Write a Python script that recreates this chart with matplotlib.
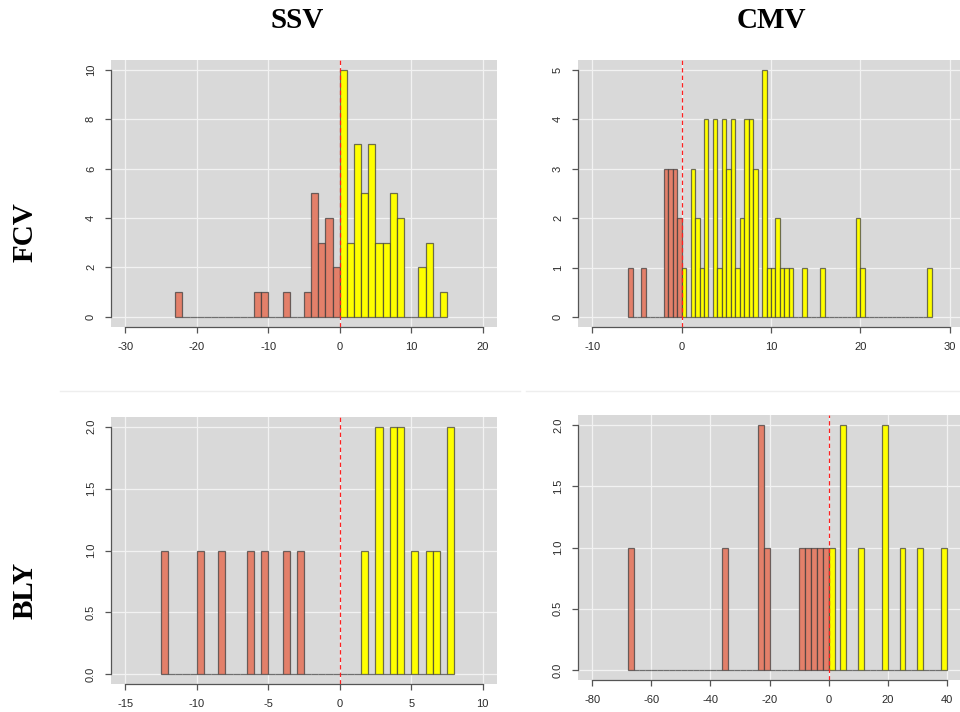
import numpy as np
import matplotlib.pyplot as plt
from matplotlib.lines import Line2D

plt.rcParams['axes.unicode_minus'] = False
plt.rcParams['font.family'] = ['Liberation Sans', 'DejaVu Sans']

# histogram counts, bins start at *_start with width *_width
fcv_ssv_start, fcv_ssv_width = -23, 1
fcv_ssv_counts = [1, 0, 0, 0, 0, 0, 0, 0, 0, 0, 0, 1, 1, 0, 0, 1, 0, 0, 1,
                  5, 3, 4, 2, 10, 3, 7, 5, 7, 3, 3, 5, 4, 0, 0, 2, 3, 0, 1]

fcv_cmv_start, fcv_cmv_width = -6, 0.5
fcv_cmv_counts = [1, 0, 0, 1, 0, 0, 0, 0, 3, 3, 3, 2,
                  1, 0, 3, 2, 1, 4, 0, 4, 1, 4, 3, 4, 1, 2, 4, 4, 3, 0,
                  5, 1, 1, 2, 1, 1, 1, 0, 0, 1, 0, 0, 0, 1,
                  0, 0, 0, 0, 0, 0, 0, 2, 1,
                  0, 0, 0, 0, 0, 0, 0, 0, 0, 0, 0, 0, 0, 0, 1]

bly_ssv_start, bly_ssv_width = -12.5, 0.5
bly_ssv_counts = [1, 0, 0, 0, 0, 1, 0, 0, 1, 0, 0, 0, 1, 0, 1, 0, 0, 1, 0, 1,
                  0, 0, 0, 0, 0, 0, 0, 0, 1, 0, 2, 0, 2, 2, 0, 1, 0, 1, 1, 0, 2]

bly_cmv_start, bly_cmv_width = -68, 2
bly_cmv_counts = [1, 0, 0, 0, 0, 0, 0, 0, 0, 0, 0, 0, 0, 0, 0, 0,
                  1, 0, 0, 0, 0, 0, 2, 1, 0, 0, 0, 0, 0,
                  1, 1, 1, 1, 1,
                  1, 0, 2, 0, 0, 1, 0, 0, 0, 2, 0, 0, 1, 0, 0, 1, 0, 0, 0, 1]

col_titles = ['SSV', 'CMV']
row_titles = ['FCV', 'BLY']

x_ticks = [np.arange(-30, 21, 10), np.arange(-10, 31, 10),
           np.arange(-15, 11, 5), np.arange(-80, 41, 20)]
y_ticks = [np.arange(0, 11, 2), np.arange(0, 6, 1),
           np.arange(0, 2.01, 0.5), np.arange(0, 2.01, 0.5)]
y_fmt = ['{:.0f}', '{:.0f}', '{:.1f}', '{:.1f}']

panels = [(fcv_ssv_start, fcv_ssv_width, fcv_ssv_counts),
          (fcv_cmv_start, fcv_cmv_width, fcv_cmv_counts),
          (bly_ssv_start, bly_ssv_width, bly_ssv_counts),
          (bly_cmv_start, bly_cmv_width, bly_cmv_counts)]

# plot regions in pixels: left, top, right, bottom
boxes = [(111, 60, 497, 326.5), (578, 60, 964, 327),
         (111, 416.7, 497, 684.3), (578, 415, 961, 680)]

W, H = 960, 712
fig = plt.figure(figsize=(W / 100, H / 100), dpi=100)

neg_col = '#E3806A'
pos_col = '#FFFF00'
edge = (0.22, 0.22, 0.22, 0.7)

for i, ((start, width, counts), box) in enumerate(zip(panels, boxes)):
    l, t, r, b = box
    ax = fig.add_axes([l / W, 1 - b / H, (r - l) / W, (b - t) / H])
    ax.set_facecolor('#D9D9D9')

    counts = np.array(counts)
    lefts = start + width * np.arange(len(counts))
    colors = [neg_col if x < 0 else pos_col for x in lefts]
    ax.bar(lefts, counts, width=width, align='edge', color=colors,
           edgecolor=edge, linewidth=0.9, zorder=3)

    xt, yt = x_ticks[i], y_ticks[i]
    xpad = 0.04 * (xt[-1] - xt[0])
    ypad = 0.04 * (yt[-1] - yt[0])
    ax.set_xlim(xt[0] - xpad, xt[-1] + xpad)
    ax.set_ylim(yt[0] - ypad, yt[-1] + ypad)

    ax.axvline(0, color='#FF2020', linestyle=(0, (3.5, 2.5)), linewidth=0.9, zorder=4)

    ax.set_xticks(xt)
    ax.set_xticklabels(['{:.0f}'.format(v) for v in xt])
    ax.set_yticks(yt)
    ax.set_yticklabels([y_fmt[i].format(v) for v in yt], rotation=90, va='center')
    ax.grid(True, color='#F2F2F2', linewidth=0.9, zorder=1)
    ax.set_axisbelow(True)

    for s in ['top', 'right']:
        ax.spines[s].set_visible(False)
    ax.spines['left'].set_bounds(yt[0], yt[-1])
    ax.spines['bottom'].set_bounds(xt[0], xt[-1])
    for s in ['left', 'bottom']:
        ax.spines[s].set_color('#555555')
        ax.spines[s].set_linewidth(0.9)
    ax.tick_params(length=4.3, width=0.9, color='#555555', pad=6.5,
                   labelsize=8, labelcolor='#2a2a2a')

# column and row headings
for x, txt in zip([297, 771], col_titles):
    fig.text(x / W, 1 - 20 / H, txt, ha='center', va='center', fontsize=21,
             fontweight='bold', family='Liberation Serif')
for y, txt in zip([232, 590], row_titles):
    fig.text(25 / W, 1 - y / H, txt, ha='center', va='center', fontsize=21,
             fontweight='bold', family='Liberation Serif', rotation=90)

# faint divider between the two rows
for x0, x1 in [(60, 520), (526, 960)]:
    fig.add_artist(Line2D([x0 / W, x1 / W], [1 - 391 / H, 1 - 391 / H],
                          color='#EEEEEE', linewidth=1))

fig.savefig('out.png', dpi=100)
